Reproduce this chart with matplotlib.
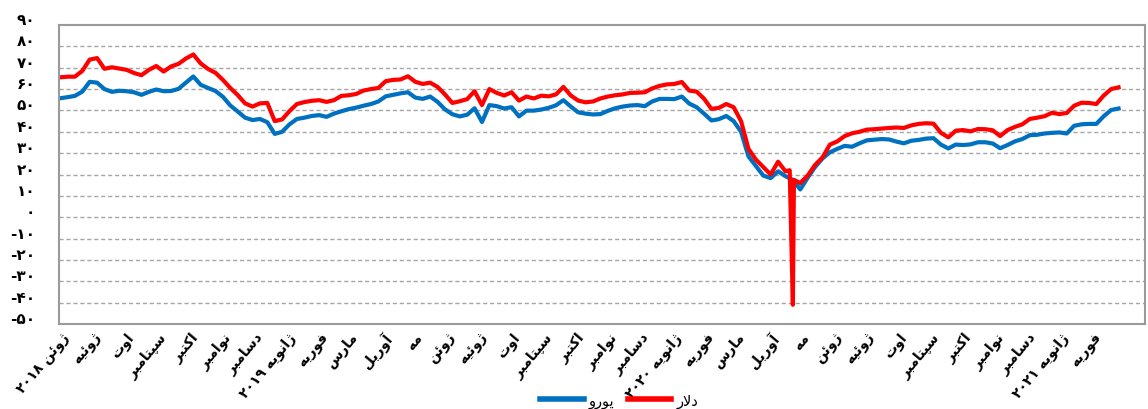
import matplotlib
matplotlib.use("Agg")
import matplotlib.pyplot as plt
import pandas as pd
from matplotlib.transforms import ScaledTranslation
from matplotlib.lines import Line2D

# ---------------- data (weekly readings) ----------------
start_date = "2018-05-28"
dollar = [65.5, 65.8, 65.8, 68.5, 73.8, 74.5, 69.5, 70.2, 69.6, 69.0,
          67.5, 66.5, 69.0, 70.8, 68.2, 70.6, 71.8, 74.3, 76.2, 72.0,
          69.4, 67.6, 64.3, 60.5, 57.2, 53.3, 51.8, 53.3, 53.5, 45.0,
          45.8, 49.7, 53.0, 53.9, 54.5, 54.8, 54.0, 54.8, 56.8, 57.1,
          57.7, 59.3, 60.0, 60.5, 63.7, 64.3, 64.5, 66.0, 63.4, 62.4,
          63.0, 61.0, 57.5, 53.5, 54.3, 55.3, 59.0, 52.5, 60.0, 58.2,
          57.0, 58.5, 54.6, 56.5, 55.6, 56.9, 56.6, 57.5, 61.0, 57.0,
          54.6, 53.8, 54.2, 55.6, 56.5, 57.1, 57.5, 58.2, 58.3, 58.5,
          60.3, 61.5, 62.2, 62.4, 63.3, 59.3, 58.8, 55.5, 50.7, 51.2,
          53.0, 51.5, 45.0, 32.0, 27.0, 23.5, 20.0, 26.0, 21.5, -41.0,
          16.0, 19.5, 24.5, 28.0, 34.0, 35.5, 38.0, 39.3, 40.0, 41.0,
          41.2, 41.5, 41.8, 42.0, 41.8, 43.0, 43.7, 44.0, 43.8, 39.5,
          37.4, 40.5, 40.8, 40.2, 41.3, 41.2, 40.7, 38.0, 40.8, 42.3,
          43.5, 46.0, 46.6, 47.3, 48.9, 48.3, 48.8, 52.2, 53.6, 53.5,
          53.0, 57.0, 60.0, 60.8]
euro = [55.7, 56.2, 56.8, 58.8, 63.4, 63.0, 60.0, 58.7, 59.2, 59.0,
        58.5, 57.3, 58.7, 59.8, 59.0, 59.1, 60.1, 63.0, 65.9, 62.0,
        60.5, 59.1, 56.4, 52.3, 49.5, 46.6, 45.5, 46.0, 44.5, 39.0,
        40.0, 43.5, 46.0, 46.6, 47.4, 47.8, 47.0, 48.5, 49.6, 50.6,
        51.3, 52.2, 53.0, 54.2, 56.6, 57.3, 58.0, 58.5, 56.0, 55.4,
        56.5, 54.0, 50.5, 48.2, 47.2, 48.0, 51.0, 44.6, 52.5, 52.0,
        50.9, 51.5, 47.2, 49.9, 49.9, 50.4, 51.2, 52.4, 54.8, 51.8,
        49.1, 48.5, 48.1, 48.3, 49.8, 51.0, 51.8, 52.3, 52.5, 52.0,
        54.2, 55.4, 55.4, 55.3, 56.5, 53.2, 51.5, 48.5, 45.3, 45.9,
        47.4, 45.0, 40.0, 28.5, 24.0, 19.5, 18.3, 21.5, 19.2, 17.5,
        13.0, 18.5, 23.5, 27.5, 30.4, 32.0, 33.4, 33.0, 34.6, 36.0,
        36.3, 36.6, 36.4, 35.4, 34.6, 35.8, 36.2, 36.8, 37.0, 34.0,
        32.2, 34.0, 33.8, 34.1, 35.1, 35.1, 34.5, 32.3, 33.8, 35.5,
        36.6, 38.4, 38.6, 39.2, 39.5, 39.7, 39.2, 42.8, 43.5, 43.7,
        43.7, 47.3, 50.2, 50.9]
# extra daily readings of the dollar series around the one-day negative spike
spike_dates = ["2020-04-17", "2020-04-21"]
spike_dollar = [22.0, 17.5]

series_names = ["دلار", "یورو"]
month_labels = ["ژوئن ۲۰۱۸", "ژوئیه", "اوت", "سپتامبر", "اکتبر", "نوامبر",
                "دسامبر", "ژانویه ۲۰۱۹", "فوریه", "مارس", "آوریل", "مه",
                "ژوئن", "ژوئیه", "اوت", "سپتامبر", "اکتبر", "نوامبر",
                "دسامبر", "ژانویه ۲۰۲۰", "فوریه", "مارس", "آوریل", "مه",
                "ژوئن", "ژوئیه", "اوت", "سپتامبر", "اکتبر", "نوامبر",
                "دسامبر", "ژانویه ۲۰۲۱", "فوریه"]
month_start = "2018-06-01"
y_ticks = list(range(-50, 91, 10))

# ---------------- Persian shaping (no complex text layout in matplotlib) ----
FORMS = {  # isolated, final, initial, medial
    "ا": ("\uFE8D", "\uFE8E", None, None),
    "آ": ("\uFE81", "\uFE82", None, None),
    "ب": ("\uFE8F", "\uFE90", "\uFE91", "\uFE92"),
    "پ": ("\uFB56", "\uFB57", "\uFB58", "\uFB59"),
    "ت": ("\uFE95", "\uFE96", "\uFE97", "\uFE98"),
    "د": ("\uFEA9", "\uFEAA", None, None),
    "ر": ("\uFEAD", "\uFEAE", None, None),
    "ژ": ("\uFB8A", "\uFB8B", None, None),
    "س": ("\uFEB1", "\uFEB2", "\uFEB3", "\uFEB4"),
    "ف": ("\uFED1", "\uFED2", "\uFED3", "\uFED4"),
    "ک": ("\uFB8E", "\uFB8F", "\uFB90", "\uFB91"),
    "ل": ("\uFEDD", "\uFEDE", "\uFEDF", "\uFEE0"),
    "م": ("\uFEE1", "\uFEE2", "\uFEE3", "\uFEE4"),
    "ن": ("\uFEE5", "\uFEE6", "\uFEE7", "\uFEE8"),
    "ه": ("\uFEE9", "\uFEEA", "\uFEEB", "\uFEEC"),
    "و": ("\uFEED", "\uFEEE", None, None),
    "ی": ("\uFBFC", "\uFBFD", "\uFBFE", "\uFBFF"),
    "ئ": ("\uFE89", "\uFE8A", "\uFE8B", "\uFE8C"),
}
LAM_ALEF = {"ا": ("\uFEFB", "\uFEFC"), "آ": ("\uFEF5", "\uFEF6")}


def _dual(c):
    return c in FORMS and FORMS[c][2] is not None


def shape_word(w):
    out, i, n = [], 0, len(w)
    while i < n:
        c = w[i]
        jp = i > 0 and _dual(w[i - 1])
        if c == "ل" and i + 1 < n and w[i + 1] in LAM_ALEF:
            out.append(LAM_ALEF[w[i + 1]][1 if jp else 0])
            i += 2
            continue
        if c not in FORMS:
            out.append(c)
            i += 1
            continue
        jn = _dual(c) and i + 1 < n and w[i + 1] in FORMS
        iso, fin, ini, med = FORMS[c]
        out.append(med if (jp and jn) else fin if jp else ini if jn else iso)
        i += 1
    return "".join(out)


def fa(text):
    toks = text.split(" ")
    vis = [shape_word(t)[::-1] if any(c in FORMS for c in t) else t for t in toks]
    return " ".join(vis[::-1])


def fa_num(v):
    return str(v).translate(str.maketrans("0123456789", "۰۱۲۳۴۵۶۷۸۹"))


# ---------------- figure ----------------
plt.rcParams["font.family"] = ["DejaVu Sans"]
W, H = 1148, 410
fig = plt.figure(figsize=(W / 100, H / 100), dpi=100)
ax = fig.add_axes([59 / W, 1 - 325 / H, (1145 - 59) / W, (325 - 26) / H])

dates = pd.date_range(start_date, periods=len(dollar), freq="7D")
euro_s = pd.Series(euro, index=dates)
dollar_s = pd.concat([pd.Series(dollar, index=dates),
                      pd.Series(spike_dollar, index=pd.to_datetime(spike_dates))]).sort_index()

ax.plot(euro_s.index, euro_s.values, color="#0070C0", lw=3.0, solid_joinstyle="round")
ax.plot(dollar_s.index, dollar_s.values, color="#FF0000", lw=3.0, solid_joinstyle="round")

ax.set_xlim(pd.Timestamp("2018-05-27"), pd.Timestamp("2021-03-19"))
ax.set_ylim(-50, 90)

ax.set_yticks(y_ticks)
ax.set_yticklabels([fa_num(v) for v in y_ticks], fontsize=11, fontweight="bold")
ax.tick_params(axis="y", length=0, pad=17)
for lbl in ax.get_yticklabels():
    lbl.set_transform(lbl.get_transform() + ScaledTranslation(0, 5 / 72, fig.dpi_scale_trans))

for v in y_ticks[1:-1]:
    ax.axhline(v, color="#A6A6A6", lw=1.0, ls=(0, (3, 2)), zorder=0)

mpos = pd.date_range(month_start, periods=len(month_labels), freq="MS")
ax.set_xticks(mpos)
ax.set_xticklabels([fa(m) for m in month_labels], rotation=50, ha="right",
                   va="top", rotation_mode="anchor", fontsize=10, fontweight="bold")
ax.tick_params(axis="x", length=0, pad=4)
for lbl in ax.get_xticklabels():
    lbl.set_transform(lbl.get_transform() + ScaledTranslation(-2 / 72, 0, fig.dpi_scale_trans))

for s in ax.spines.values():
    s.set_color("#9A9A9A")
    s.set_linewidth(1.5)

handles = [Line2D([], [], color="#0070C0", lw=4), Line2D([], [], color="#FF0000", lw=4)]
ax.legend(handles, [fa(series_names[1]), fa(series_names[0])], ncol=2, frameon=False,
          loc="center", bbox_to_anchor=(619 / W, 1 - 401 / H), bbox_transform=fig.transFigure,
          handlelength=3.0, handletextpad=0.35, columnspacing=0.9,
          prop={"size": 10.5})

fig.savefig("out.png", dpi=100)
